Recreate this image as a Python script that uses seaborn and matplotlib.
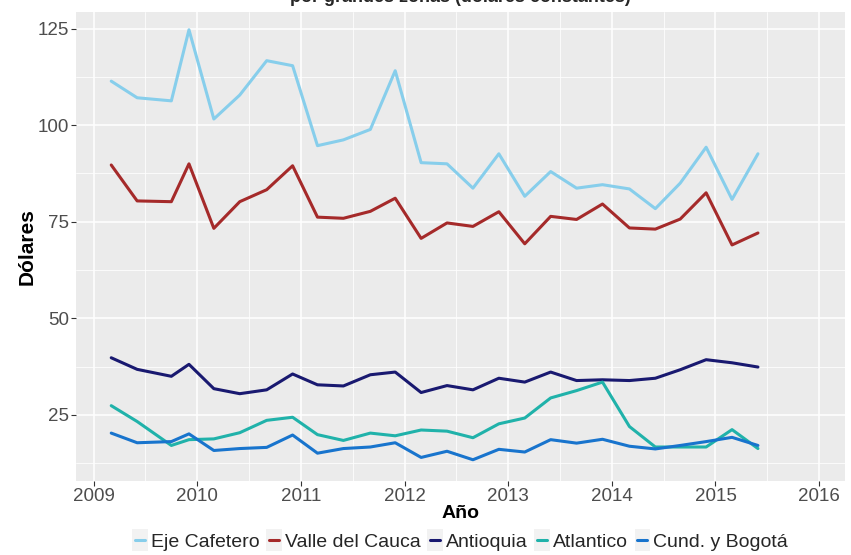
import numpy as np
import pandas as pd
import matplotlib
matplotlib.use("Agg")
import matplotlib.pyplot as plt
import seaborn as sns
from matplotlib.legend_handler import HandlerLine2D
from matplotlib.patches import Rectangle
from matplotlib.lines import Line2D

# ---- data ----
fechas = [2009.17, 2009.42, 2009.75, 2009.92,
          2010.16, 2010.41, 2010.67, 2010.92,
          2011.16, 2011.41, 2011.67, 2011.91,
          2012.16, 2012.41, 2012.66, 2012.91,
          2013.16, 2013.41, 2013.66, 2013.91,
          2014.17, 2014.42, 2014.66, 2014.91,
          2015.16, 2015.41]

eje_cafetero = [111.4, 107.1, 106.3, 124.7, 101.6, 107.8, 116.7, 115.4,
                94.7, 96.2, 98.9, 114.1, 90.3, 90.0, 83.7, 92.6,
                81.6, 88.0, 83.7, 84.6, 83.5, 78.4, 85.0, 94.3, 80.8, 92.6]
valle_del_cauca = [89.7, 80.4, 80.2, 90.0, 73.3, 80.2, 83.3, 89.5,
                   76.2, 75.9, 77.7, 81.1, 70.7, 74.7, 73.8, 77.6,
                   69.3, 76.4, 75.6, 79.6, 73.4, 73.1, 75.7, 82.5, 69.0, 72.1]
antioquia = [39.8, 36.8, 35.0, 38.1, 31.8, 30.5, 31.5, 35.6,
             32.8, 32.5, 35.4, 36.1, 30.8, 32.6, 31.5, 34.5,
             33.5, 36.1, 33.9, 34.1, 33.9, 34.5, 36.7, 39.3, 38.5, 37.4]
atlantico = [27.4, 23.3, 17.1, 18.6, 18.8, 20.4, 23.6, 24.4,
             19.9, 18.4, 20.3, 19.6, 21.1, 20.8, 19.1, 22.7,
             24.2, 29.4, 31.3, 33.5, 22.0, 16.7, 16.7, 16.7, 21.2, 16.3]
cund_bogota = [20.3, 17.8, 18.1, 20.1, 15.8, 16.3, 16.6, 19.8,
               15.1, 16.3, 16.7, 17.8, 14.0, 15.6, 13.4, 16.1,
               15.4, 18.6, 17.7, 18.7, 16.9, 16.2, 17.1, 18.1, 19.2, 17.1]

zonas = ["Eje Cafetero", "Valle del Cauca", "Antioquia", "Atlantico", "Cund. y Bogotá"]
series = [eje_cafetero, valle_del_cauca, antioquia, atlantico, cund_bogota]
colores = ["#87CEEB", "#A52A2A", "#191970", "#20B2AA", "#1874CD"]
anios = [2009, 2010, 2011, 2012, 2013, 2014, 2015, 2016]
y_ticks = [25, 50, 75, 100, 125]

df = pd.concat([pd.DataFrame({"Año": fechas, "Dólares": v, "Zona": z})
                for z, v in zip(zonas, series)], ignore_index=True)

# ---- style ----
sns.set_theme(style="darkgrid")
plt.rcParams["font.family"] = ["Liberation Sans", "DejaVu Sans"]

fig = plt.figure(figsize=(8.51, 5.55), dpi=100)
ax = fig.add_axes([76/851, 1-481/555, (845-76)/851, (481-12)/555])
ax.set_facecolor("#EBEBEB")

sns.lineplot(data=df, x="Año", y="Dólares", hue="Zona", hue_order=zonas,
             palette=dict(zip(zonas, colores)), linewidth=2.2, ax=ax,
             legend=True)

ax.set_xticks(anios)
ax.set_xticklabels([str(a) for a in anios])
ax.set_yticks(y_ticks)
ax.set_xticks([a + 0.5 for a in anios[:-1]], minor=True)
ax.set_yticks([12.5, 37.5, 62.5, 87.5, 112.5], minor=True)
ax.set_xlim(2008.83, 2016.25)
ax.set_ylim(7.9, 129.3)
ax.grid(which="major", color="white", linewidth=1.1)
ax.grid(which="minor", color="white", linewidth=0.55)
ax.set_axisbelow(True)
for s in ax.spines.values():
    s.set_visible(False)
ax.tick_params(axis="both", which="major", labelsize=13.5, colors="#333333",
               labelcolor="#4D4D4D", length=3.5, width=0.8, pad=1.5, direction="out",
               bottom=True, left=True)
ax.tick_params(which="minor", length=0)
ax.set_xlabel("Año", fontsize=14, fontweight="bold", color="black", labelpad=0)
ax.set_ylabel("Dólares", fontsize=15, fontweight="bold", color="black", labelpad=1)

# title (second line, partly out of the figure like the reference)
fig.text((76+845)/2/851, 1-2/555, "por grandes zonas (dólares constantes)",
         ha="center", va="baseline", fontsize=13, fontweight="bold")

# legend with ggplot-like grey key boxes
class KeyHandler(HandlerLine2D):
    def create_artists(self, legend, orig_handle, xdescent, ydescent,
                       width, height, fontsize, trans):
        rect = Rectangle((-xdescent, -ydescent - 3), width, height + 6,
                         facecolor="#F2F2F2", edgecolor="none", transform=trans)
        yc = -ydescent + height / 2
        line = Line2D([-xdescent + 2, -xdescent + width - 2], [yc, yc],
                      color=orig_handle.get_color(), linewidth=2.2,
                      transform=trans)
        return [rect, line]

handles, labels = ax.get_legend_handles_labels()
ax.get_legend().remove()
fig.legend(handles, labels, loc="center", bbox_to_anchor=(460/851, 1-542/555),
           ncol=5, frameon=False, fontsize=14, handlelength=0.8,
           handletextpad=0.15, columnspacing=0.35,
           handler_map={Line2D: KeyHandler()})

fig.savefig("out.png", dpi=100)
